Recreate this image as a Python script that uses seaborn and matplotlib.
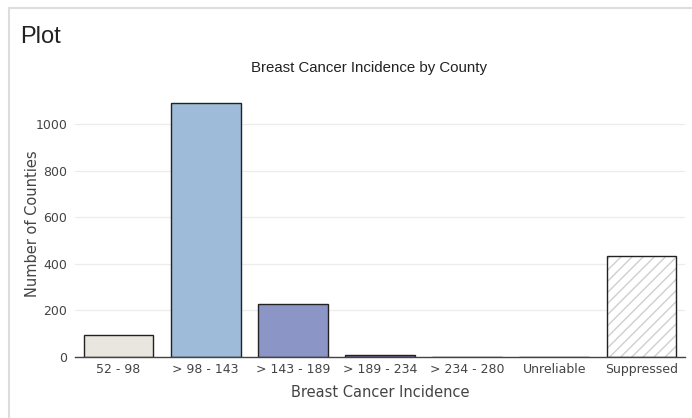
import numpy as np
import pandas as pd
import seaborn as sns
import matplotlib.pyplot as plt
from matplotlib.patches import Rectangle

# Data
categories = ["52 - 98", "> 98 - 143", "> 143 - 189", "> 189 - 234",
              "> 234 - 280", "Unreliable", "Suppressed"]
counts = [94, 1091, 227, 7, 2, 0, 433]
colors = ["#e8e6df", "#9ebcda", "#8c96c6", "#8c6bb1", "#88419d", "#6e016b", "#ffffff"]

df = pd.DataFrame({"Incidence": categories, "Counties": counts})

sns.set_style("white")
plt.rcParams["font.family"] = ["DejaVu Sans"]
plt.rcParams["hatch.linewidth"] = 1.0

fig = plt.figure(figsize=(6.92, 4.18), dpi=100)
ax = fig.add_axes([75 / 692, 1 - 357 / 418, 610 / 692, (357 - 89.5) / 418])

sns.barplot(data=df, x="Incidence", y="Counties", hue="Incidence",
            palette=colors, legend=False, width=0.8, saturation=1,
            edgecolor="#222222", linewidth=1.0, ax=ax)

# Suppressed bar: light gray hatch, then a dark outline on top
sup = ax.patches[-1]
sup.set_hatch("///")
sup.set_edgecolor("#cfcfcf")
sup.set_linewidth(0)
ax.add_patch(Rectangle((sup.get_x(), 0), sup.get_width(), sup.get_height(),
                       fill=False, edgecolor="#222222", linewidth=1.0, zorder=3))

ax.set_xlim(-0.5, len(categories) - 0.5)
ax.set_ylim(0, 1148)
ax.set_yticks([0, 200, 400, 600, 800, 1000])
ax.yaxis.grid(True, color="#ececec", linewidth=0.9)
ax.set_axisbelow(True)
for s in ["top", "right", "left"]:
    ax.spines[s].set_visible(False)
ax.spines["bottom"].set_color("#444444")
ax.spines["bottom"].set_linewidth(1.0)
ax.tick_params(axis="y", length=5, width=0.8, color="#444444",
               labelsize=9, labelcolor="#444444", pad=0.5)
ax.tick_params(axis="x", length=0, labelsize=9, labelcolor="#444444", pad=4)
ax.set_xlabel("Breast Cancer Incidence", fontsize=10.5, color="#444444", labelpad=7)
ax.set_ylabel("Number of Counties", fontsize=10.5, color="#444444")
ax.yaxis.set_label_coords((40 - 75) / 610, 0.5)

fig.text(369 / 692, 1 - 68 / 418, "Breast Cancer Incidence by County",
         ha="center", va="center", fontsize=10.8, color="#222222",
         family="Liberation Sans")
fig.text(20 / 692, 1 - 37 / 418, "Plot", ha="left", va="center",
         fontsize=17, color="#222222", family="Liberation Sans")

# light frame around the panel
fig.patches.append(Rectangle((9 / 692, -0.05), 690 / 692, 1 - 8 / 418 + 0.05,
                             transform=fig.transFigure, fill=False,
                             edgecolor="#dddddd", linewidth=1.5))

fig.savefig("out.png", dpi=100)
